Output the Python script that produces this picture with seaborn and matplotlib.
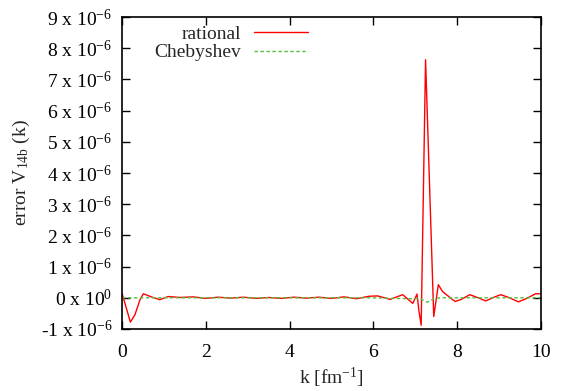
import numpy as np
import pandas as pd
import matplotlib
matplotlib.use("Agg")
import matplotlib.pyplot as plt
import seaborn as sns

# ---- data (values in units of 1e-6) ----
k_rational = [0.0, 0.2, 0.31, 0.43, 0.51, 0.7, 0.9, 1.1, 1.4, 1.7, 2.0, 2.3, 2.6,
              2.9, 3.2, 3.5, 3.8, 4.1, 4.4, 4.7, 5.0, 5.3, 5.6, 5.9, 6.1, 6.4,
              6.7, 6.94, 7.04, 7.09, 7.14, 7.245, 7.44, 7.55, 7.65, 7.8, 7.95,
              8.1, 8.3, 8.5, 8.68, 8.88, 9.04, 9.25, 9.46, 9.66, 9.87, 10.0]
err_rational = [0.15, -0.78, -0.54, -0.06, 0.13, 0.03, -0.06, 0.04, 0.01, 0.03,
                -0.02, 0.02, -0.01, 0.02, -0.02, 0.01, -0.02, 0.02, -0.01, 0.02,
                -0.02, 0.03, -0.03, 0.05, 0.06, -0.05, 0.1, -0.18, 0.12, -0.45,
                -0.88, 7.63, -0.6, 0.42, 0.2, 0.04, -0.12, -0.05, 0.1, 0.0, -0.1,
                0.02, 0.1, 0.0, -0.13, -0.02, 0.13, 0.13]

k_cheb = [0.0, 1.0, 2.0, 3.0, 4.0, 5.0, 6.0, 6.5, 6.9, 7.1, 7.2, 7.28, 7.36,
          7.45, 7.6, 8.0, 9.0, 10.0]
err_cheb = [0.0, 0.0, 0.0, 0.0, 0.0, 0.0, 0.0, -0.02, -0.03, -0.02, -0.08,
            -0.14, -0.1, -0.02, 0.0, 0.0, 0.0, 0.0]

x_ticks = [0, 2, 4, 6, 8, 10]
y_ticks = [-1, 0, 1, 2, 3, 4, 5, 6, 7, 8, 9]
y_tick_labels = ["-1 x 10$^{\\mathrm{-6}}$", "0 x 10$^{\\mathrm{0}}$"] + \
    [f"{v} x 10$^{{\\mathrm{{-6}}}}$" for v in range(1, 10)]

sns.set_theme(style="ticks")
plt.rcParams["font.family"] = ["Liberation Serif", "DejaVu Serif"]
plt.rcParams["mathtext.fontset"] = "custom"
plt.rcParams["mathtext.rm"] = "Liberation Serif"
plt.rcParams["mathtext.it"] = "Liberation Serif:italic"
plt.rcParams["mathtext.default"] = "rm"

fig = plt.figure(figsize=(5.72, 3.91), dpi=100)
ax = fig.add_axes([122 / 572, 1 - 329 / 391, (541 - 122) / 572, (329 - 17) / 391])

df_r = pd.DataFrame({"k": k_rational, "err": err_rational})
df_c = pd.DataFrame({"k": k_cheb, "err": err_cheb})

sns.lineplot(data=df_r, x="k", y="err", ax=ax, color="#ff0000", lw=1.0,
             label="rational", sort=False)
sns.lineplot(data=df_c, x="k", y="err", ax=ax, color="#55c040", lw=1.0,
             label="Chebyshev", sort=False, dashes=False)
ax.lines[1].set_dashes([2.5, 1.8])

ax.set_xlim(0, 10)
ax.set_ylim(-1, 9)
ax.set_xticks(x_ticks)
ax.set_xticklabels([str(t) for t in x_ticks])
ax.set_yticks(y_ticks)
ax.set_yticklabels(y_tick_labels)
ax.tick_params(direction="in", length=6, width=1, top=True, right=True,
               labelsize=14, colors="black")
ax.tick_params(axis="x", pad=11)
ax.tick_params(axis="y", pad=7)
for s in ax.spines.values():
    s.set_linewidth(1.2)
    s.set_color("black")

ax.set_xlabel("k [fm$^{\\mathrm{-1}}$]", fontsize=14, labelpad=3)
ax.set_ylabel("error V$_{\\mathrm{14b}}$ (k)", fontsize=14, labelpad=6)

leg = ax.legend(loc="upper right", bbox_to_anchor=((308 - 122) / 419, 0.974),
                frameon=False, markerfirst=False, fontsize=14,
                handlelength=2.8, handletextpad=0.65, labelspacing=0.05,
                borderaxespad=0.0, borderpad=0.0)

fig.savefig("out.png", dpi=100)
